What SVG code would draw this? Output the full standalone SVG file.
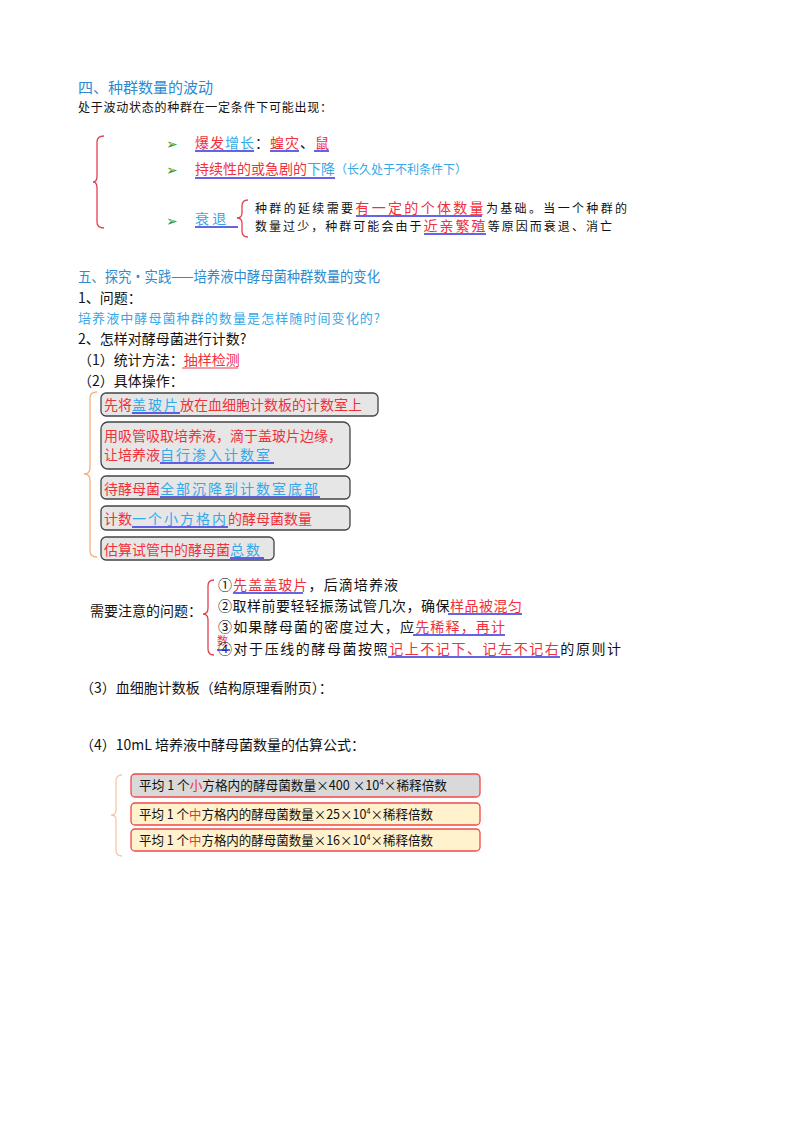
<svg xmlns="http://www.w3.org/2000/svg" width="800" height="1132" viewBox="0 0 800 1132">
<style>
text{font-family:"Noto Sans CJK SC","Liberation Serif",serif;fill:#111}
.h{fill:#2e8bd0;font-size:15px}
.b{font-size:12px}
.r{fill:#f0303a}
.c{fill:#35a8e8}
.m{font-size:14px}
.f{font-size:13px}
.s{letter-spacing:2px}
.ul{stroke:#3030e0;stroke-width:1.5;fill:none}
.box{fill:#e6e6e6;stroke:#444;stroke-width:1.3}
.fb{stroke:#f04848;stroke-width:1.3}
.br{fill:none;stroke-width:1.3}
.ar{fill:#2a9a2a;font-size:14px}
</style>
<rect width="800" height="1132" fill="#fff"/>
<g id="sec4">
<text class="h" x="78" y="93">四、种群数量的波动</text>
<text class="b" x="78" y="112" textLength="254" lengthAdjust="spacing">处于波动状态的种群在一定条件下可能出现：</text>
<path class="br" stroke="#e04050" d="M104,136 Q97,136 97,142 L97,176 Q97,182 93,182 Q97,182 97,188 L97,222 Q97,228 104,228"/>
<text class="ar" x="166" y="149">➢</text><text class="ar" x="166" y="175">➢</text><text class="ar" x="166" y="226">➢</text>
<text x="195" y="148" font-size="14" letter-spacing="1"><tspan class="r">爆发</tspan><tspan class="c">增长</tspan>：<tspan class="r">蝗灾</tspan>、<tspan class="r">鼠</tspan></text>
<path class="ul" d="M195,151 H254 M270,151 H299 M314,151 H329"/>
<text x="195" y="174" font-size="14"><tspan class="r">持续性的或急剧的</tspan><tspan class="c">下降</tspan><tspan class="c" font-size="12">（长久处于不利条件下）</tspan></text>
<path class="ul" d="M195,178 H335"/>
<text class="c" x="195" y="224" font-size="14">衰 退</text>
<path class="ul" d="M195,227 H238"/>
<path class="br" stroke="#e04050" d="M248,200 Q242,200 242,206 L242,213 Q242,218 237,218 Q242,218 242,223 L242,231 Q242,237 248,237"/>
<text class="b" x="255" y="213" textLength="372" lengthAdjust="spacing">种群的延续需要<tspan class="r" font-size="14">有一定的个体数量</tspan>为基础。当一个种群的</text>
<path class="ul" d="M356,216 H482"/>
<text class="b" x="255" y="231" textLength="357" lengthAdjust="spacing">数量过少，种群可能会由于<tspan class="r" font-size="14">近亲繁殖</tspan>等原因而衰退、消亡</text>
<path class="ul" d="M424,234 H486"/>
</g>
<g id="sec5">
<text class="h" x="78" y="282" font-size="14" textLength="302" lengthAdjust="spacingAndGlyphs">五、探究·实践——培养液中酵母菌种群数量的变化</text>
<text class="m" x="78" y="303">1、问题：</text>
<text class="c" font-size="13" x="78" y="323" textLength="302" lengthAdjust="spacing">培养液中酵母菌种群的数量是怎样随时间变化的?</text>
<text class="m" x="78" y="344">2、怎样对酵母菌进行计数?</text>
<text class="m" x="78" y="365">（1）统计方法：<tspan class="r">抽样检测</tspan></text>
<path d="M182,368 H238" stroke="#e04050" stroke-width="1.2"/>
<text class="m" x="78" y="386">（2）具体操作：</text>
</g>
<g id="steps">
<path class="br" stroke="#f5b080" d="M97,392 Q90,392 90,398 L90,468 Q90,474 84,474 Q90,474 90,480 L90,551 Q90,557 97,557"/>
<g id="s1"><rect class="box" x="101" y="393" width="277" height="23" rx="5"/><text class="m r" x="104" y="410">先将<tspan class="c s">盖玻片</tspan>放在血细胞计数板的计数室上</text><path class="ul" d="M132,413 H180"/></g>
<g id="s2"><rect class="box" x="101" y="422" width="249" height="47" rx="7"/><text class="m r" x="104" y="441">用吸管吸取培养液，滴于盖玻片边缘，</text><text class="m r" x="104" y="460">让培养液<tspan class="c s">自行渗入计数室</tspan></text><path class="ul" d="M160,463 H274"/></g>
<g id="s3"><rect class="box" x="101" y="476" width="249" height="23" rx="5"/><text class="m r" x="104" y="494">待酵母菌<tspan class="c s">全部沉降到计数室底部</tspan></text><path class="ul" d="M160,497 H320"/></g>
<g id="s4"><rect class="box" x="101" y="506" width="249" height="24" rx="5"/><text class="m r" x="104" y="524">计数<tspan class="c s">一个小方格内</tspan>的酵母菌数量</text><path class="ul" d="M132,527 H228"/></g>
<g id="s5"><rect class="box" x="101" y="537" width="173" height="23" rx="5"/><text class="m r" x="104" y="555">估算试管中的酵母菌<tspan class="c s">总数</tspan></text><path class="ul" d="M230,558 H264"/></g>
</g>
<g id="notes">
<text class="m" x="90" y="616">需要注意的问题：</text>
<path class="br" stroke="#e04050" d="M214,580 Q208,580 208,586 L208,608 Q208,614 203,614 Q208,614 208,620 L208,649 Q208,655 214,655"/>
<text class="m" x="218" y="590" textLength="180" lengthAdjust="spacing">①<tspan class="r">先盖盖玻片</tspan>，后滴培养液</text>
<path class="ul" d="M233,593 H303"/>
<text class="m" x="218" y="611" textLength="304" lengthAdjust="spacing">②取样前要轻轻振荡试管几次，确保<tspan class="r">样品被混匀</tspan></text>
<path class="ul" d="M448,614 H522"/>
<text class="m" x="218" y="632" textLength="287" lengthAdjust="spacing">③如果酵母菌的密度过大，应<tspan class="r">先稀释，再计</tspan></text>
<path class="ul" d="M413,635 H505"/>
<text class="r" x="217" y="645" font-size="11">数</text>
<text class="m" x="218" y="654" textLength="403" lengthAdjust="spacing">④对于压线的酵母菌按照<tspan class="r">记上不记下、记左不记右</tspan>的原则计</text>
<path class="ul" d="M388,657 H560 M217,650 H230"/>
<text class="m" x="80" y="693">（3）血细胞计数板（结构原理看附页）：</text>
<text class="m" x="80" y="750">（4）10mL 培养液中酵母菌数量的估算公式：</text>
</g>
<g id="formulas">
<path class="br" stroke="#f5c8a8" d="M122,775 Q116,775 116,781 L116,810 Q116,815 111,815 Q116,815 116,820 L116,850 Q116,856 122,856"/>
<g id="f1"><rect class="fb" x="131" y="774" width="349" height="23" rx="4" fill="#d9d9d9"/><text class="f" x="139" y="790" textLength="308" lengthAdjust="spacingAndGlyphs">平均 1 个<tspan class="r">小</tspan>方格内的酵母菌数量×400  ×10<tspan font-size="8" dy="-5">4</tspan><tspan dy="5">×稀释倍数</tspan></text></g>
<g id="f2"><rect class="fb" x="131" y="803" width="349" height="22" rx="4" fill="#fff2cc"/><text class="f" x="139" y="819" textLength="294" lengthAdjust="spacingAndGlyphs">平均 1 个<tspan class="r">中</tspan>方格内的酵母菌数量×25×10<tspan font-size="8" dy="-5">4</tspan><tspan dy="5">×稀释倍数</tspan></text></g>
<g id="f3"><rect class="fb" x="131" y="829" width="349" height="22" rx="4" fill="#fff2cc"/><text class="f" x="139" y="845" textLength="294" lengthAdjust="spacingAndGlyphs">平均 1 个<tspan class="r">中</tspan>方格内的酵母菌数量×16×10<tspan font-size="8" dy="-5">4</tspan><tspan dy="5">×稀释倍数</tspan></text></g>
</g>
<g id="connectors"/>
</svg>
